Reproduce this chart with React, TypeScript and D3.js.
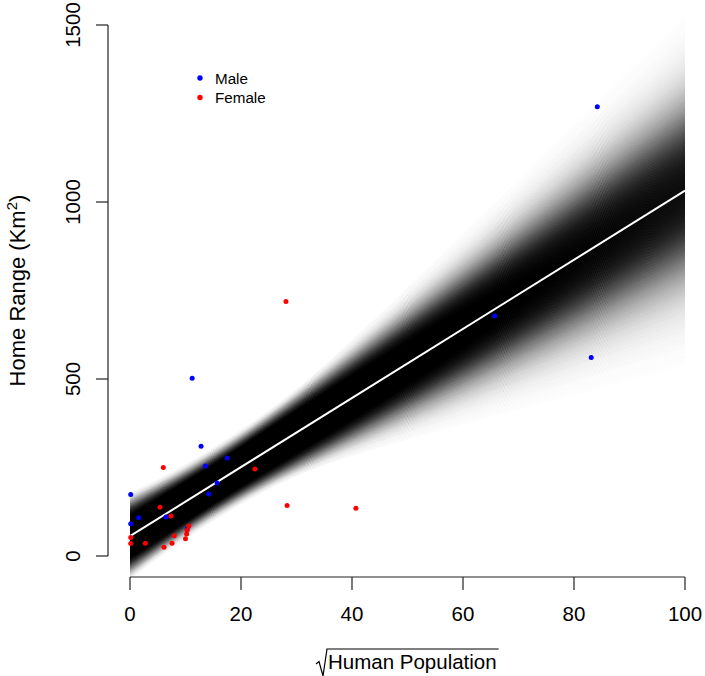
import React, { useEffect, useRef, useState } from "react";
import * as d3 from "d3";

// ---- data ----
const maleX = [0.13, 0.13, 1.57, 6.49, 10.3, 11.2, 12.8, 13.6, 14.2, 15.7, 17.5, 65.7, 83.1, 84.2];
const maleY = [174, 91, 108, 110, 76, 502, 310, 254, 175, 206, 277, 678, 561, 1269];

const femaleX = [0.13, 0.13, 2.76, 5.4, 6.0, 6.13, 7.39, 7.57, 7.98, 10.0, 10.2, 10.3, 10.6, 22.5, 28.1, 28.3, 40.7];
const femaleY = [52, 35, 36, 138, 250, 25, 113, 36, 57, 49, 62, 73, 85, 246, 719, 143, 135];

// posterior regression summary
const fitIntercept = 56;
const fitSlope = 9.76;
const fanCentreX = 15; // x where the fan is narrowest
const fanCentreSD = 34; // spread of predictions at that x
const fanSlopeScale = 1.3; // spread of slopes (heavy-tailed)
const fanSlopeDF = 5;

const xTicks = [0, 20, 40, 60, 80, 100];
const yTicks = [0, 500, 1000, 1500];

const legendLabels = ["Male", "Female"];
const legendColors = ["#0000ff", "#ff0000"];

const W = 705;
const H = 676;
const FONT = "'Liberation Sans', Arial, Helvetica, sans-serif";

export default function App() {
  const x = d3.scaleLinear().domain([0, 100]).range([130, 685]);
  const y = d3.scaleLinear().domain([0, 1500]).range([556, 25]);

  // fan of posterior lines on a quantile grid
  const zA = d3.range(-3.6, 3.601, 0.1);
  const zB = d3.range(-5.4, 5.401, 0.15);
  const phi = (z: number) => Math.exp(-0.5 * z * z) / Math.sqrt(2 * Math.PI);
  const nu = fanSlopeDF;
  const tc = 0.3796; // t(5) density at 0
  const tDens = (t: number) => tc * Math.pow(1 + (t * t) / nu, -(nu + 1) / 2);
  const M = 320;
  const aMean = fitIntercept + fitSlope * fanCentreX;
  const fan: { y0: number; y1: number; o: number }[] = [];
  for (const zb of zB) {
    for (const za of zA) {
      const w = phi(za) * 0.1 * tDens(zb) * 0.15;
      const o = 1 - Math.exp(-M * w);
      if (o < 0.002) continue;
      const a = aMean + za * fanCentreSD;
      const b = fitSlope + zb * fanSlopeScale;
      fan.push({ y0: a + b * (0 - fanCentreX), y1: a + b * (100 - fanCentreX), o });
    }
  }

  const labelRef = useRef<SVGTextElement>(null);
  const [labelW, setLabelW] = useState(169);
  useEffect(() => {
    if (labelRef.current) setLabelW(labelRef.current.getComputedTextLength());
  }, []);

  const titleY = 669;
  const textStart = 328;
  const radTop = 649;

  return (
    <svg width={W} height={H} style={{ display: "block", position: "absolute", left: 0, top: 0, background: "#fff" }}>
      <rect x={0} y={0} width={W} height={H} fill="#fff" />
      <g>
        {fan.map((l, i) => (
          <line
            key={i}
            x1={x(0)}
            x2={x(100)}
            y1={y(l.y0)}
            y2={y(l.y1)}
            stroke="#000"
            strokeWidth={1}
            strokeOpacity={l.o}
          />
        ))}
      </g>
      <line
        x1={x(0)}
        x2={x(100)}
        y1={y(fitIntercept)}
        y2={y(fitIntercept + fitSlope * 100)}
        stroke="#fff"
        strokeWidth={2}
      />
      {maleX.map((v, i) => (
        <circle key={"m" + i} cx={x(v)} cy={y(maleY[i])} r={2.5} fill={legendColors[0]} />
      ))}
      {femaleX.map((v, i) => (
        <circle key={"f" + i} cx={x(v)} cy={y(femaleY[i])} r={2.5} fill={legendColors[1]} />
      ))}

      {/* legend */}
      {legendLabels.map((lab, i) => (
        <g key={lab}>
          <circle cx={200} cy={78 + i * 19.5} r={2.7} fill={legendColors[i]} />
          <text x={215} y={78 + i * 19.5 + 5.5} fontFamily={FONT} fontSize={15.2} fill="#000">
            {lab}
          </text>
        </g>
      ))}

      {/* x axis */}
      <line x1={x(0)} x2={x(100)} y1={577} y2={577} stroke="#222" strokeWidth={1.2} />
      {xTicks.map((t) => (
        <g key={t}>
          <line x1={x(t)} x2={x(t)} y1={577} y2={590} stroke="#222" strokeWidth={1.2} />
          <text x={x(t)} y={621} textAnchor="middle" fontFamily={FONT} fontSize={20.5} fill="#000">
            {t}
          </text>
        </g>
      ))}

      {/* y axis */}
      <line x1={108} x2={108} y1={y(0)} y2={y(1500)} stroke="#222" strokeWidth={1.2} />
      {yTicks.map((t) => (
        <g key={t}>
          <line x1={96} x2={108} y1={y(t)} y2={y(t)} stroke="#222" strokeWidth={1.2} />
          <text
            transform={`translate(80,${y(t)}) rotate(-90)`}
            textAnchor="middle"
            fontFamily={FONT}
            fontSize={20.5}
            fill="#000"
          >
            {t}
          </text>
        </g>
      ))}

      {/* y title */}
      <text
        transform={`translate(25,${(y(0) + y(1500)) / 2}) rotate(-90)`}
        textAnchor="middle"
        fontFamily={FONT}
        fontSize={22}
        fill="#000"
      >
        Home Range (Km
        <tspan dy={-8} fontSize={15}>2</tspan>
        <tspan dy={8}>)</tspan>
      </text>

      {/* x title with radical */}
      <path
        d={`M316,664 L319,661.5 L323,676 L327,${radTop} L${textStart + labelW + 2},${radTop}`}
        fill="none"
        stroke="#000"
        strokeWidth={1.2}
      />
      <text ref={labelRef} x={textStart} y={titleY} fontFamily={FONT} fontSize={20.5} fill="#000">
        Human Population
      </text>
    </svg>
  );
}
